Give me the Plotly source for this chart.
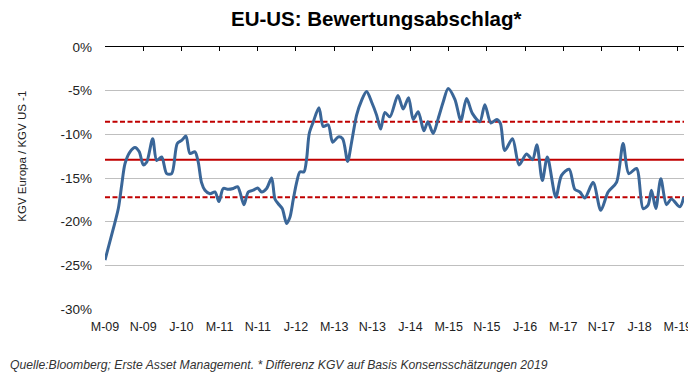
import plotly.graph_objects as go

# months after March 2009 (M-09 = 0) and valuation discount in %
months = [0, 1.74, 2.79, 3.5, 4.19, 5.24, 6.28, 7.18, 8.02, 8.73, 9.99, 10.83, 11.87, 12.92,
          13.97, 15.14, 16.06, 16.96, 17.8, 18.85, 19.54, 20.21, 20.94, 21.99, 23.04, 23.87,
          24.77, 25.82, 26.87, 27.79, 28.27, 29.11, 30.01, 31.06, 31.98, 32.82, 33.86, 34.91,
          35.6, 36.29, 37.13, 38.05, 38.74, 39.43, 40.15, 40.84, 41.68, 42.24, 42.79, 43.62,
          44.82, 45.72, 46.76, 47.69, 48.86, 49.78, 50.83, 51.66, 52.71, 53.76, 54.81, 55.85,
          56.9, 57.74, 58.64, 59.69, 61.36, 62.47, 63.6, 64.57, 65.61, 66.81, 67.64, 68.75,
          69.8, 70.85, 71.9, 73.3, 74.55, 75.75, 76.96, 78.53, 79.58, 80.84, 82.09, 82.83,
          83.77, 85.38, 86.74, 88.31, 89.57, 90.47, 91.62, 92.67, 94.45, 95.64, 97.24, 98.43,
          99.48, 100.52, 102.26, 103.87, 105.4, 107.16, 108.54, 109.74, 111.35, 112.73,
          113.77, 114.49, 115.39, 116.44, 117.63, 118.67, 120.42, 121.26]
discount = [-24.4, -20.8, -18.5, -15.8, -13.35, -12.0, -11.5, -12.0, -13.5, -13.2, -10.5, -13.0,
            -12.6, -14.5, -14.5, -11.05, -10.7, -10.2, -12.2, -12.0, -13.2, -15.5, -16.4, -16.8,
            -16.6, -17.7, -16.2, -16.3, -16.2, -16.0, -16.6, -18.05, -16.6, -16.4, -16.15, -16.6,
            -16.2, -15.0, -17.4, -17.95, -18.5, -20.2, -19.5, -17.5, -15.5, -14.3, -14.3, -12.8,
            -9.9, -8.6, -6.95, -9.1, -8.9, -10.9, -10.3, -10.5, -13.1, -10.9, -7.8, -6.1, -5.1,
            -6.3, -7.8, -9.4, -7.5, -8.0, -5.55, -7.1, -5.8, -8.3, -7.4, -9.6, -8.55, -9.9, -8.2,
            -6.3, -4.75, -6.0, -8.4, -5.9, -7.6, -8.55, -6.6, -8.7, -8.3, -8.75, -11.85, -10.5,
            -13.5, -12.25, -12.9, -11.2, -15.3, -12.6, -17.2, -14.7, -14.0, -16.3, -16.6, -17.3,
            -15.5, -18.7, -16.6, -15.5, -11.05, -14.5, -13.9, -18.5, -18.1, -16.4, -18.5, -15.1,
            -18.05, -17.4, -18.3, -17.2]

mean_value = -12.9
upper_band = -8.55
lower_band = -17.2

tick_months = [0, 8, 16, 24, 32, 40, 48, 56, 64, 72, 80, 88, 96, 104, 112, 120]
tick_labels = ["M-09", "N-09", "J-10", "M-11", "N-11", "J-12", "M-13", "N-13", "J-14",
               "M-15", "N-15", "J-16", "M-17", "N-17", "J-18", "M-19"]
y_ticks = [0, -5, -10, -15, -20, -25, -30]
y_labels = ["0%", "-5%", "-10%", "-15%", "-20%", "-25%", "-30%"]

x_min, x_max = 0, 121.3

fig = go.Figure()

for val, dash in [(upper_band, "5px,2.5px"), (mean_value, "solid"), (lower_band, "5px,2.5px")]:
    fig.add_trace(go.Scatter(x=[x_min, x_max], y=[val, val], mode="lines",
                             line=dict(color="#C00000", width=2, dash=dash),
                             hoverinfo="skip", showlegend=False))

fig.add_trace(go.Scatter(x=months, y=discount, mode="lines",
                         line=dict(color="#3A6698", width=3, shape="spline", smoothing=0.8),
                         showlegend=False))

# invisible trace for top axis (ticks at 0%)
fig.add_trace(go.Scatter(x=[x_min, x_max], y=[0, 0], xaxis="x2", mode="lines",
                         line=dict(width=0), hoverinfo="skip", showlegend=False))

PW, PH = 579.0, 262.0

fig.update_layout(
    width=688, height=369,
    margin=dict(l=97, r=12, t=39.3, b=67.7),
    paper_bgcolor="white", plot_bgcolor="white",
    font=dict(family="Liberation Sans, Arial, sans-serif", color="#222222"),
    xaxis=dict(range=[x_min, x_max], tickvals=tick_months, ticktext=tick_labels,
               showgrid=False, zeroline=False, showline=False, ticks="", automargin=False,
               tickfont=dict(size=12.5, color="#222222"), ticklabelstandoff=8),
    xaxis2=dict(range=[x_min, x_max], overlaying="x", side="top", anchor="y",
                tickvals=tick_months, showticklabels=False, showgrid=False, automargin=False,
                zeroline=False, showline=True, linecolor="black", linewidth=1,
                ticks="inside", ticklen=4, tickcolor="black"),
    yaxis=dict(range=[-30, 0], tickvals=y_ticks, ticktext=y_labels, automargin=False,
               showgrid=True, gridcolor="#BFBFBF", gridwidth=1, zeroline=False,
               showline=False, ticks="", tickfont=dict(size=13.5, color="#222222"),
               ticklabelstandoff=12),
    annotations=[
        dict(text="<b>EU-US: Bewertungsabschlag*</b>", xref="paper", yref="paper",
             x=(376 - 105) / PW, y=(309.3 - 18.5) / PH, xanchor="center", yanchor="middle",
             showarrow=False, font=dict(size=20.5, color="black"), borderpad=0),
        dict(text="KGV Europa / KGV US -1", xref="paper", yref="paper",
             x=(22 - 105) / PW, y=(309.3 - 157) / PH, xanchor="center", yanchor="middle",
             textangle=-90, showarrow=False, font=dict(size=11.5, color="#222222")),
        dict(text="<i>Quelle:Bloomberg; Erste Asset Management. * Differenz KGV auf Basis Konsensschätzungen 2019</i>",
             xref="paper", yref="paper", x=(8 - 105) / PW, y=-(365 - 309.3) / PH,
             xanchor="left", yanchor="middle", showarrow=False,
             font=dict(size=12.2, color="#333333")),
    ],
)

fig.write_html("out.html")
